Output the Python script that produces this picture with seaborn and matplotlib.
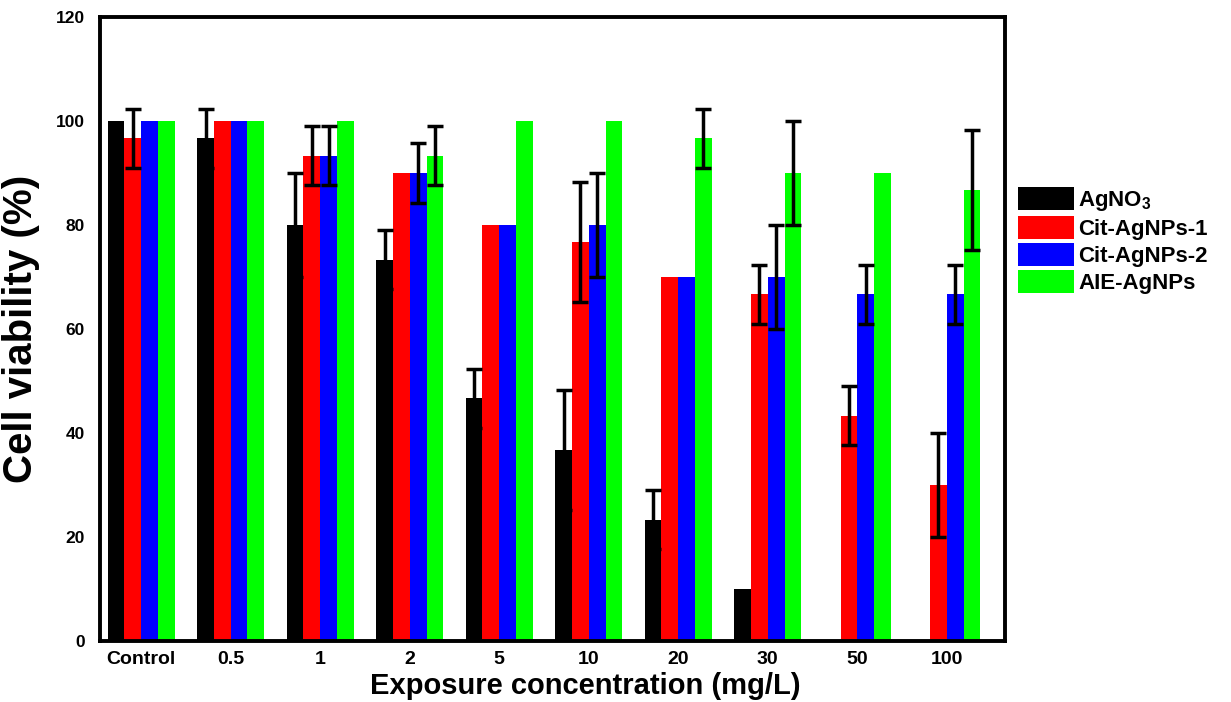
import numpy as np
import pandas as pd
import matplotlib
matplotlib.use("Agg")
import matplotlib.pyplot as plt
from matplotlib.ticker import MultipleLocator, FixedLocator
import seaborn as sns

categories = ["Control", "0.5", "1", "2", "5", "10", "20", "30", "50", "100"]
series = ["AgNO$_3$", "Cit-AgNPs-1", "Cit-AgNPs-2", "AIE-AgNPs"]
agno3 = [100, 96.7, 80, 73.3, 46.7, 36.7, 23.3, 10, 0, 0]
agno3_err = [0, 5.7, 10, 5.7, 5.7, 11.5, 5.7, 0, 0, 0]
cit1 = [96.7, 100, 93.3, 90, 80, 76.7, 70, 66.7, 43.3, 30]
cit1_err = [5.7, 0, 5.7, 0, 0, 11.5, 0, 5.7, 5.7, 10]
cit2 = [100, 100, 93.3, 90, 80, 80, 70, 70, 66.7, 66.7]
cit2_err = [0, 0, 5.7, 5.8, 0, 10, 0, 10, 5.7, 5.7]
aie = [100, 100, 100, 93.3, 100, 100, 96.7, 90, 90, 86.7]
aie_err = [0, 0, 0, 5.7, 0, 0, 5.7, 10, 0, 11.5]
colors = ["#000000", "#ff0000", "#0000ff", "#00ff00"]

values = [agno3, cit1, cit2, aie]
errors = [agno3_err, cit1_err, cit2_err, aie_err]

rows = []
for s, v in zip(series, values):
    for c, y in zip(categories, v):
        rows.append({"conc": c, "series": s, "viability": y})
df = pd.DataFrame(rows)

sns.set_theme(style="white")
plt.rcParams["font.family"] = ["Liberation Sans", "DejaVu Sans"]
plt.rcParams["font.weight"] = "bold"
plt.rcParams["text.color"] = "black"
plt.rcParams["axes.labelcolor"] = "black"
plt.rcParams["xtick.color"] = "black"
plt.rcParams["ytick.color"] = "black"
plt.rcParams["mathtext.fontset"] = "custom"
plt.rcParams["mathtext.rm"] = "Liberation Sans:bold"
plt.rcParams["mathtext.bf"] = "Liberation Sans:bold"
plt.rcParams["mathtext.it"] = "Liberation Sans:bold"

fig = plt.figure(figsize=(12.31, 7.02), dpi=100)
ax = fig.add_axes([100 / 1231, 61 / 702, 905 / 1231, 624 / 702])

sns.barplot(data=df, x="conc", y="viability", hue="series", order=categories,
            hue_order=series, palette=colors, width=0.75, errorbar=None,
            saturation=1, ax=ax, linewidth=0)

for cont, err in zip(ax.containers, errors):
    for patch, e in zip(cont.patches, err):
        if e > 0:
            xc = patch.get_x() + patch.get_width() / 2
            ax.errorbar(xc, patch.get_height(), yerr=e, fmt="none", ecolor="black",
                        elinewidth=2.5, capsize=6, capthick=2.5, zorder=5)

ax.set_xlim(-0.46, 9.65)
ax.set_ylim(0, 120)
ax.yaxis.set_major_locator(MultipleLocator(20))
ax.yaxis.set_minor_locator(MultipleLocator(10))
ax.xaxis.set_minor_locator(FixedLocator(np.arange(0.5, 10, 1)))
ax.tick_params(axis="both", which="both", direction="in", width=2.5, color="black",
               labelcolor="black")
ax.tick_params(axis="both", which="major", length=6)
ax.tick_params(axis="both", which="minor", length=4)
ax.tick_params(axis="x", which="major", pad=7, labelsize=14)
ax.tick_params(axis="y", which="major", pad=11, labelsize=12.5)
for lbl in ax.get_xticklabels() + ax.get_yticklabels():
    lbl.set_fontweight("bold")
for sp in ax.spines.values():
    sp.set_visible(True)
    sp.set_color("black")
    sp.set_linewidth(2.8)

ax.set_xlabel("Exposure concentration (mg/L)", fontsize=21, fontweight="bold",
              labelpad=3, color="black")
ax.xaxis.label.set_x(0.536)
ax.set_ylabel("Cell viability (%)", fontsize=29, fontweight="bold", labelpad=11,
              color="black")

leg = ax.legend(loc="upper left", bbox_to_anchor=(1.0045, 0.742), frameon=False,
                fontsize=16, handlelength=2.5, handleheight=1.2, handletextpad=0.22,
                labelspacing=0.14, borderaxespad=0)
for t in leg.get_texts():
    t.set_fontweight("bold")
    t.set_color("black")

fig.savefig("out.png", dpi=100)
